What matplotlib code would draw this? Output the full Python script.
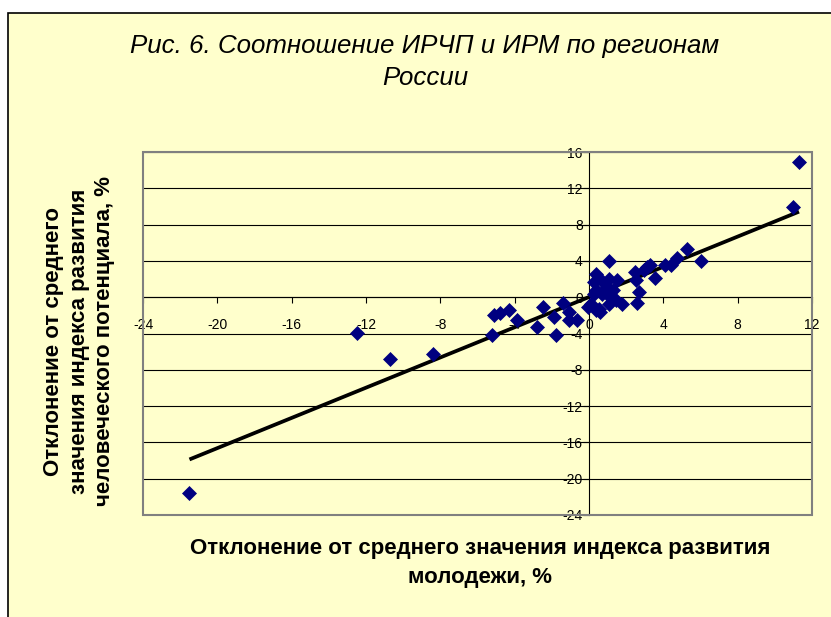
import matplotlib.pyplot as plt
from matplotlib.patches import Rectangle
import numpy as np

# deviation of youth development index (x) vs HDI (y), % from mean
idx_youth = [-21.5, -12.5, -10.7, -8.4, -5.2, -5.1, -4.8, -4.3, -3.9, -2.8,
             -2.45, -1.9, -1.75, -1.4, -1.1, -1.05, -0.65, -0.05, 0.4, 0.6,
             0.1, 0.55, 1.1, 0.35, 0.28, 0.65, 1.1, 1.5, 0.95, 1.3,
             0.7, 0.4, 1.15, 1.1, 1.8, 1.45, 0.25, 2.45, 2.7, 2.6,
             2.95, 3.3, 3.55, 3.1, 2.55, 4.1, 4.4, 4.75, 5.3, 6.0,
             11.0, 11.3]
idx_hdi = [-21.6, -3.9, -6.8, -6.3, -4.2, -2.0, -1.7, -1.4, -2.5, -3.3,
           -1.1, -2.2, -4.2, -0.6, -1.6, -2.5, -2.5, -1.05, -1.4, -1.6,
           -0.7, -1.25, 4.0, 2.6, 1.7, 1.9, 2.05, 1.9, 1.15, 0.8,
           0.4, 0.8, 0.05, -0.7, -0.7, -0.35, 0.4, 2.8, 0.6, -0.65,
           3.0, 3.5, 2.1, 3.3, 1.9, 3.5, 3.6, 4.3, 5.3, 4.0,
           9.9, 14.9]

# linear trend as drawn on the chart
trend_slope = 0.8325
trend_intercept = 0.02

x_ticks = list(range(-24, 13, 4))
y_ticks = list(range(-24, 17, 4))

title = 'Рис. 6. Соотношение ИРЧП и ИРМ по регионам\nРоссии'
xlabel = 'Отклонение от среднего значения индекса развития\nмолодежи, %'
ylabel = 'Отклонение от среднего\nзначения индекса развития\nчеловеческого потенциала, %'

W, H = 831, 617
bg = '#FFFFCC'

plt.rcParams['font.family'] = ['Liberation Sans', 'DejaVu Sans']

fig = plt.figure(figsize=(W / 100, H / 100), dpi=100)
fig.patch.set_facecolor('white')

# chart area frame (cut by the page on right and bottom)
fig.patches.append(Rectangle((8 / W, -0.1), 1.2, 1 - 13 / H + 0.1,
                             transform=fig.transFigure, facecolor=bg,
                             edgecolor='black', lw=1.2, zorder=-10))

ax = fig.add_axes([143 / W, 1 - 515 / H, (812 - 143) / W, (515 - 152) / H])
ax.set_facecolor(bg)

ax.set_xlim(-24, 12)
ax.set_ylim(-24, 16)
ax.set_xticks(x_ticks)
ax.set_yticks(y_ticks)
ax.set_xticklabels([str(t) for t in x_ticks], fontsize=10)
ax.set_yticklabels([str(t) for t in y_ticks], fontsize=10,
                   family=['Liberation Sans Narrow', 'Liberation Sans'])

for yv in y_ticks:
    ax.axhline(yv, color='black', lw=0.8, zorder=1)

ax.spines['left'].set_position(('data', 0))
ax.spines['bottom'].set_position(('data', 0))
ax.spines['top'].set_visible(False)
ax.spines['right'].set_visible(False)
for s in ('left', 'bottom'):
    ax.spines[s].set_color('black')
    ax.spines[s].set_linewidth(0.8)
    ax.spines[s].set_zorder(2)

ax.tick_params(axis='x', direction='out', length=4, width=0.8, pad=11)
ax.tick_params(axis='y', direction='out', length=4, width=0.8, pad=0.5)

ax.add_patch(Rectangle((0, 0), 1, 1, transform=ax.transAxes, fill=False,
                       edgecolor='#808080', lw=1.5, clip_on=False, zorder=3))

xs = np.array(idx_youth)
tx = np.array([xs.min(), xs.max()])
ax.plot(tx, trend_slope * tx + trend_intercept, color='black', lw=2.7,
        zorder=4, solid_capstyle='butt')

ax.plot(idx_youth, idx_hdi, linestyle='none', marker='D', ms=7.2,
        color='#000080', mec='#000080', mew=0.5, zorder=5)

fig.text(425 / W, 1 - 62 / H, title, ha='center', va='center',
         fontsize=18.6, style='italic', linespacing=1.45)
fig.text(480 / W, 1 - 563 / H, xlabel, ha='center', va='center',
         fontsize=16, fontweight='bold', linespacing=1.55)
fig.text(79 / W, 1 - 341 / H, ylabel, ha='center', va='center',
         rotation=90, fontsize=16, fontweight='bold', linespacing=1.3)

fig.savefig('out.png', dpi=100, facecolor='white')
